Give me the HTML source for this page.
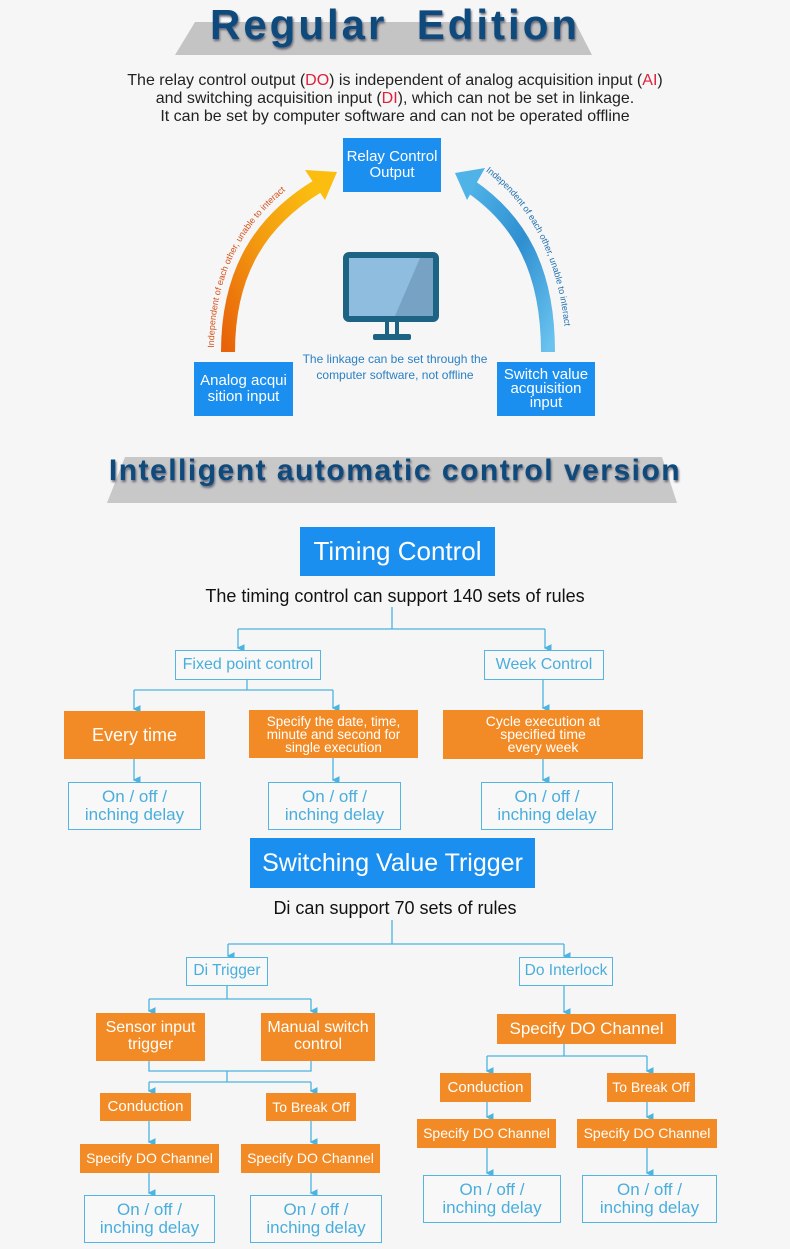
<!DOCTYPE html>
<html><head><meta charset="utf-8"><style>
body{margin:0;width:790px;height:1249px;background:#f6f6f6;position:relative;overflow:hidden;font-family:"Liberation Sans",sans-serif}
.a{position:absolute;display:flex;align-items:center;justify-content:center;text-align:center;box-sizing:border-box;line-height:1.05}
.b{background:#1a8ff0;color:#fff}
.o{background:#f28b25;color:#fff}
.w{border:1.5px solid #53b6e2;color:#4aaedc;background:#f8f8f8}
.t{position:absolute;left:0;width:790px;text-align:center;color:#111}
</style></head><body>
<svg width="790" height="1249" style="position:absolute;left:0;top:0">
<defs>
<linearGradient id="og" x1="0" y1="1" x2="1" y2="0"><stop offset="0" stop-color="#e8620a"/><stop offset="0.5" stop-color="#f39a10"/><stop offset="1" stop-color="#fbc010"/></linearGradient>
<linearGradient id="bg" x1="1" y1="1" x2="0" y2="0"><stop offset="0" stop-color="#6ac3ef"/><stop offset="0.5" stop-color="#2f8fd0"/><stop offset="1" stop-color="#4fb3e8"/></linearGradient>
<marker id="ar" markerWidth="6" markerHeight="6" refX="3" refY="5" orient="auto"><path d="M0,0 L6,0 L3,6z" fill="#4cb4e0"/></marker>
</defs>
<polygon points="195,22 575,22 592,55 175,55" fill="#c4c4c4"/>
<polygon points="125,457 662,457 677,503 107,503" fill="#c8c8c8"/>
<path d="M228,352 C228,270 262,220 318,186" stroke="url(#og)" stroke-width="14" fill="none"/>
<polygon points="305,170 337,172 325,200" fill="#fbbd10"/>
<path d="M548,352 C548,270 520,220 470,186" stroke="url(#bg)" stroke-width="14" fill="none"/>
<polygon points="455,173 485,168 467,200" fill="#4fb3e8"/>
<path id="lp" d="M214,350 C214,265 250,215 302,178" fill="none"/>
<path id="rp" d="M484,170 C536,208 562,270 566,345" fill="none"/>
<text font-size="9" fill="#d4501a" font-family="Liberation Sans,sans-serif"><textPath href="#lp" startOffset="2">Independent of each other, unable to interact</textPath></text>
<text font-size="9" fill="#1f6fb0" font-family="Liberation Sans,sans-serif"><textPath href="#rp" startOffset="2">Independent of each other, unable to interact</textPath></text>
<rect x="343" y="252" width="96" height="70" rx="6" fill="#1d6384"/>
<rect x="349" y="258" width="84" height="58" fill="#8fbde0"/>
<polygon points="395,316 433,316 433,258 420,258" fill="#78a2c4"/>
<rect x="385" y="322" width="4" height="14" fill="#1d6384"/><rect x="395" y="322" width="4" height="14" fill="#1d6384"/>
<rect x="373" y="334" width="38" height="6" rx="2" fill="#1d6384"/>
<g stroke="#4cb4e0" stroke-width="1.3" fill="none">
<path d="M392,607 V629 M238,629 H545 M238,629 V648" marker-end="url(#ar)"/>
<path d="M545,629 V648" marker-end="url(#ar)"/>
<path d="M247,679 V690 M134,690 H333 M134,690 V709" marker-end="url(#ar)"/>
<path d="M333,690 V708" marker-end="url(#ar)"/>
<path d="M543,679 V708" marker-end="url(#ar)"/>
<path d="M134,759 V780" marker-end="url(#ar)"/>
<path d="M333,758 V780" marker-end="url(#ar)"/>
<path d="M543,759 V780" marker-end="url(#ar)"/>
<path d="M392,920 V944 M228,944 H564 M228,944 V956" marker-end="url(#ar)"/>
<path d="M564,944 V956" marker-end="url(#ar)"/>
<path d="M227,985 V999 M149,999 H311 M149,999 V1011" marker-end="url(#ar)"/>
<path d="M311,999 V1011" marker-end="url(#ar)"/>
<path d="M149,1061 V1071 H311 V1061 M227,1071 V1082 M149,1082 H311 M149,1082 V1091" marker-end="url(#ar)"/>
<path d="M311,1082 V1091" marker-end="url(#ar)"/>
<path d="M149,1121 V1142" marker-end="url(#ar)"/><path d="M311,1121 V1142" marker-end="url(#ar)"/>
<path d="M149,1172 V1193" marker-end="url(#ar)"/><path d="M311,1172 V1193" marker-end="url(#ar)"/>
<path d="M564,985 V1012" marker-end="url(#ar)"/>
<path d="M564,1043 V1056 M487,1056 H647 M487,1056 V1071" marker-end="url(#ar)"/>
<path d="M647,1056 V1071" marker-end="url(#ar)"/>
<path d="M487,1102 V1117" marker-end="url(#ar)"/><path d="M647,1102 V1117" marker-end="url(#ar)"/>
<path d="M487,1148 V1173" marker-end="url(#ar)"/><path d="M647,1148 V1173" marker-end="url(#ar)"/>
</g>
</svg>
<div class="t" style="top:1px;font-size:42px;font-weight:bold;color:#0e4a7c;letter-spacing:3px;text-shadow:1px 2px 2px #667">Regular&nbsp; Edition</div>
<div class="t" style="top:72px;font-size:16px;line-height:18px;color:#222">The relay control output (<span style="color:#e0203a">DO</span>) is independent of analog acquisition input (<span style="color:#e0203a">AI</span>)<br>and switching acquisition input (<span style="color:#e0203a">DI</span>), which can not be set in linkage.<br>It can be set by computer software and can not be operated offline</div>
<div class="a b" style="left:343px;top:138px;width:98px;height:54px;font-size:15px">Relay Control<br>Output</div>
<div class="a b" style="left:194px;top:362px;width:99px;height:54px;font-size:15px">Analog acqui<br>sition input</div>
<div class="a b" style="left:497px;top:362px;width:98px;height:54px;font-size:15px;line-height:0.95">Switch value<br>acquisition<br>input</div>
<div class="t" style="top:351px;font-size:12px;line-height:16px;color:#2a80c4">The linkage can be set through the<br>computer software, not offline</div>
<div class="t" style="top:454px;font-size:30px;font-weight:bold;color:#0e4a7c;letter-spacing:1.5px;text-shadow:1px 2px 2px #667">Intelligent automatic control version</div>
<div class="a b" style="left:300px;top:527px;width:195px;height:49px;font-size:26px">Timing Control</div>
<div class="t" style="top:586px;font-size:18px">The timing control can support 140 sets of rules</div>
<div class="a w" style="left:175px;top:650px;width:146px;height:30px;font-size:16px">Fixed point control</div>
<div class="a w" style="left:484px;top:650px;width:120px;height:30px;font-size:16px">Week Control</div>
<div class="a o" style="left:64px;top:711px;width:141px;height:48px;font-size:18px">Every time</div>
<div class="a o" style="left:249px;top:710px;width:169px;height:48px;font-size:13.5px;line-height:13px">Specify the date, time,<br>minute and second for<br>single execution</div>
<div class="a o" style="left:443px;top:710px;width:200px;height:49px;font-size:14px;line-height:13px">Cycle execution at<br>specified time<br>every week</div>
<div class="a w" style="left:68px;top:782px;width:133px;height:48px;font-size:17px">On / off /<br>inching delay</div>
<div class="a w" style="left:268px;top:782px;width:133px;height:48px;font-size:17px">On / off /<br>inching delay</div>
<div class="a w" style="left:481px;top:782px;width:132px;height:48px;font-size:17px">On / off /<br>inching delay</div>
<div class="a b" style="left:250px;top:838px;width:285px;height:50px;font-size:25px">Switching Value Trigger</div>
<div class="t" style="top:898px;font-size:18px">Di can support 70 sets of rules</div>
<div class="a w" style="left:186px;top:957px;width:82px;height:29px;font-size:15.5px">Di Trigger</div>
<div class="a w" style="left:519px;top:957px;width:94px;height:29px;font-size:15.5px">Do Interlock</div>
<div class="a o" style="left:96px;top:1013px;width:109px;height:48px;font-size:16px">Sensor input<br>trigger</div>
<div class="a o" style="left:261px;top:1013px;width:114px;height:48px;font-size:16px">Manual switch<br>control</div>
<div class="a o" style="left:100px;top:1093px;width:91px;height:28px;font-size:15px">Conduction</div>
<div class="a o" style="left:266px;top:1093px;width:90px;height:28px;font-size:14px">To Break Off</div>
<div class="a o" style="left:80px;top:1144px;width:139px;height:29px;font-size:14px">Specify DO Channel</div>
<div class="a o" style="left:241px;top:1144px;width:139px;height:29px;font-size:14px">Specify DO Channel</div>
<div class="a w" style="left:84px;top:1195px;width:131px;height:48px;font-size:17px">On / off /<br>inching delay</div>
<div class="a w" style="left:250px;top:1195px;width:132px;height:48px;font-size:17px">On / off /<br>inching delay</div>
<div class="a o" style="left:497px;top:1014px;width:179px;height:30px;font-size:17px">Specify DO Channel</div>
<div class="a o" style="left:440px;top:1073px;width:91px;height:29px;font-size:15px">Conduction</div>
<div class="a o" style="left:607px;top:1073px;width:88px;height:29px;font-size:14px">To Break Off</div>
<div class="a o" style="left:417px;top:1119px;width:139px;height:29px;font-size:14px">Specify DO Channel</div>
<div class="a o" style="left:577px;top:1119px;width:140px;height:29px;font-size:14px">Specify DO Channel</div>
<div class="a w" style="left:423px;top:1175px;width:138px;height:48px;font-size:17px">On / off /<br>inching delay</div>
<div class="a w" style="left:582px;top:1175px;width:135px;height:48px;font-size:17px">On / off /<br>inching delay</div>
</body></html>
